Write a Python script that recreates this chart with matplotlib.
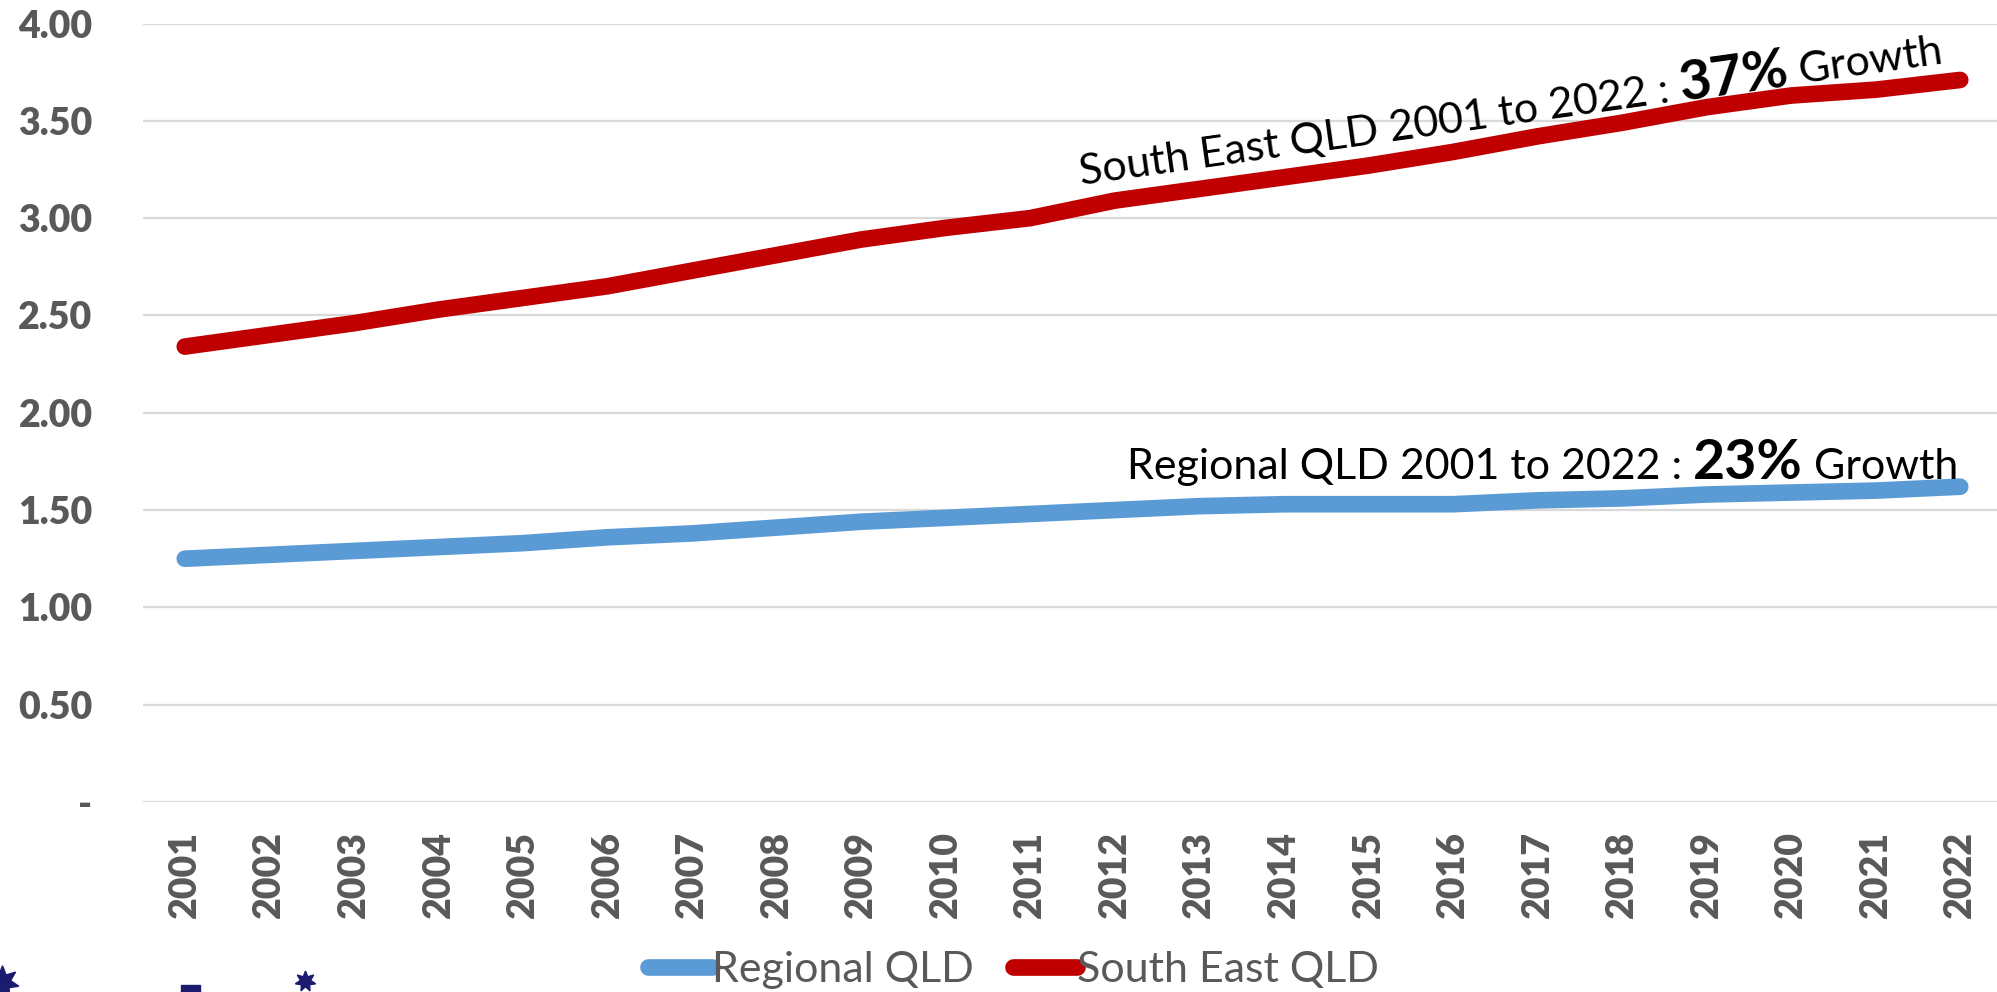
import numpy as np
import matplotlib
matplotlib.use("Agg")
import matplotlib.pyplot as plt
from matplotlib.lines import Line2D
from matplotlib.patches import Rectangle

plt.rcParams['font.family'] = ['Lato', 'DejaVu Sans']

years = [str(y) for y in range(2001, 2023)]
regional = [1.25, 1.27, 1.29, 1.31, 1.33, 1.36, 1.38, 1.41, 1.44, 1.46, 1.48,
            1.50, 1.52, 1.53, 1.53, 1.53, 1.55, 1.56, 1.58, 1.59, 1.60, 1.62]
south_east = [2.34, 2.40, 2.46, 2.53, 2.59, 2.65, 2.73, 2.81, 2.89, 2.95, 3.00,
              3.09, 3.15, 3.21, 3.27, 3.34, 3.42, 3.49, 3.57, 3.63, 3.66, 3.71]
yticks = [0, 0.5, 1.0, 1.5, 2.0, 2.5, 3.0, 3.5, 4.0]
ytick_labels = ['-', '0.50', '1.00', '1.50', '2.00', '2.50', '3.00', '3.50', '4.00']

BLUE = '#5B9BD5'
RED = '#C00000'
GREY = '#595959'
NAVY = '#1b1b6f'

W, H = 1997, 992
fig = plt.figure(figsize=(W / 100, H / 100), dpi=100)
ax = fig.add_axes([142.5 / W, 1 - 802 / H, 1860 / W, (802 - 23.5) / H])

x = np.arange(len(years))
ax.plot(x, regional, color=BLUE, lw=12, solid_capstyle='round', label='Regional QLD', zorder=3)
ax.plot(x, south_east, color=RED, lw=12, solid_capstyle='round', label='South East QLD', zorder=3)

ax.set_xlim(-0.5, len(years) - 0.5)
ax.set_ylim(0, 4.0)
ax.set_yticks(yticks)
ax.set_yticklabels(ytick_labels)
ax.set_xticks(x)
ax.set_xticklabels(years, rotation=90)
ax.grid(axis='y', color='#d9d9d9', lw=1.6, zorder=0)
ax.set_axisbelow(True)
for s in ax.spines.values():
    s.set_visible(False)
ax.tick_params(axis='both', length=0, colors=GREY, labelsize=27)
ax.tick_params(axis='y', pad=36)
ax.tick_params(axis='x', pad=21)
for lab in ax.get_xticklabels() + ax.get_yticklabels():
    lab.set_fontweight('heavy')

# legend
leg = fig.legend(loc='center', bbox_to_anchor=(0.5075, 0.022), ncol=2, frameon=False,
                 fontsize=31, handlelength=1.5, handletextpad=0.0, columnspacing=0.9,
                 labelcolor=GREY)
for h in leg.legend_handles:
    h.set_linewidth(12)
    h.set_solid_capstyle('round')

# annotations with mixed bold text
fig.canvas.draw()
renderer = fig.canvas.get_renderer()


def text_width(s, **kw):
    a = fig.text(0, 0, 'x' + s + 'x', **kw)
    b = fig.text(0, 0, 'xx', **kw)
    w = a.get_window_extent(renderer).width - b.get_window_extent(renderer).width
    a.remove()
    b.remove()
    return w


def rich_text(x0, y0, parts, angle=0):
    # x0, y0 in pixels from top-left of the image
    px, py = x0, H - y0
    ca, sa = np.cos(np.radians(angle)), np.sin(np.radians(angle))
    for s, kw in parts:
        fig.text(px / W, py / H, s, rotation=angle, rotation_mode='anchor',
                 ha='left', va='baseline', color='black', **kw)
        w = text_width(s, **kw)
        px += w * ca
        py += w * sa


rich_text(1127, 479, [('Regional QLD 2001 to 2022 : ', dict(fontsize=31)),
                      ('23%', dict(fontsize=40, fontweight='bold')),
                      (' Growth', dict(fontsize=31))])
rich_text(1081, 185, [('South East QLD 2001 to 2022 : ', dict(fontsize=31)),
                      ('37%', dict(fontsize=40, fontweight='bold')),
                      (' Growth', dict(fontsize=31))], angle=8)

# bits of the logo at the bottom left, cut off by the image edge
fig.add_artist(Line2D([2 / W], [1 - 982 / H], marker=(7, 1, 0), markersize=24,
                      color=NAVY, transform=fig.transFigure))
fig.add_artist(Line2D([305 / W], [1 - 981 / H], marker=(7, 1, 0), markersize=15,
                      color=NAVY, transform=fig.transFigure))
fig.add_artist(Rectangle((181 / W, 0), 19 / W, 7 / H, color=NAVY, transform=fig.transFigure))

fig.savefig('out.png', dpi=100)
